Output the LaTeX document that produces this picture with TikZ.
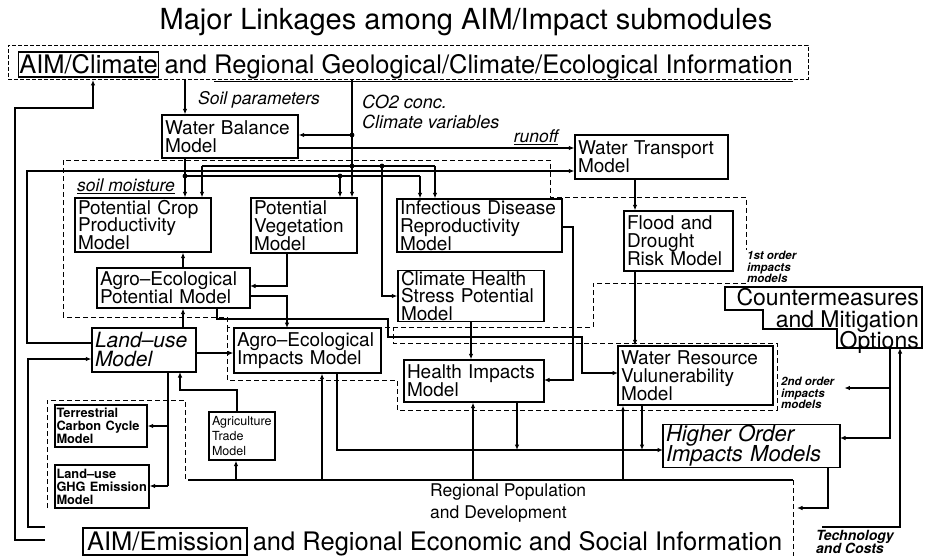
\documentclass[tikz,border=0pt]{standalone}
\usepackage{fontspec}
\setmainfont{TeX Gyre Heros}
\usetikzlibrary{arrows.meta}
\newcommand\fsz[2]{\fontsize{#1}{#2}\selectfont\lineskiplimit=-40pt\lineskip=0pt}
\begin{document}
\begin{tikzpicture}[x=1pt,y=-1pt,
  box/.style={draw, line width=1.3pt, align=left, inner xsep=3pt, inner ysep=0.5pt, font=\fsz{19}{17.8}},
  sbox/.style={box, line width=1.2pt, font=\fsz{12.8}{13}\bfseries, inner xsep=1.5pt},
  conn/.style={line width=1.1pt},
  arr/.style={conn, -{Latex[length=5.5pt,width=4.5pt]}},
  grp/.style={line width=0.7pt, dash pattern=on 5pt off 3pt},
  lbl/.style={inner sep=0pt, font=\fsz{17.5}{20}\itshape},
  ord/.style={inner sep=0pt, align=left, font=\fsz{11.5}{11.5}\bfseries\itshape},
  ban/.style={inner sep=0pt, font=\fsz{25.5}{27}}
]
\useasboundingbox (0,0) rectangle (931,556);

% title
\node[inner sep=0pt, anchor=base, font=\fsz{29}{30}] (title) at (466,30) {Major Linkages among AIM/Impact submodules};

% top banner
\node[draw, line width=0.6pt, dash pattern=on 4pt off 2pt, minimum width=800pt, minimum height=34pt, inner sep=0pt] (topban) at (408,62) {};
\node[box, font=\fsz{25.5}{27}, line width=1.2pt, minimum width=140pt, minimum height=25pt, inner xsep=1pt] (aimc) at (88.5,64.5) {AIM/Climate};
\node[ban, anchor=base west] (toptxt) at ([xshift=5pt]aimc.base east) {and \underline{Regional Geological/Climate/Ecological Information}};

% bottom banner
\node[box, font=\fsz{25.5}{27}, line width=1.2pt, minimum width=164pt, minimum height=27pt, inner xsep=1pt] (aime) at (165,541.5) {AIM/Emission};
\node[ban, anchor=base west] (bottxt) at ([xshift=5pt]aime.base east) {and \underline{Regional Economic and Social Information}};

% labels
\node[lbl, anchor=west] (soilp) at (198,100) {Soil parameters};
\node[lbl, anchor=west, font=\fsz{18}{20}\itshape] (co2) at (362,102) {CO2 conc.};
\node[lbl, anchor=west, font=\fsz{18}{20}\itshape] (climv) at (362,122) {Climate variables};
\node[lbl, anchor=south] (runoff) at (536,145) {\underline{runoff}};
\node[lbl, anchor=west] (soilm) at (77,186) {\underline{soil moisture}};
\node[ord, anchor=north west] (ord1) at (747,251) {1st order\\impacts\\models};
\node[ord, anchor=north west] (ord2) at (781,377) {2nd order\\impacts\\models};
\node[ord, anchor=north west, font=\fsz{14}{13}\bfseries\itshape] (tech) at (816,530) {Technology\\and Costs};
\node[inner sep=0pt, anchor=north west, align=left, font=\fsz{17.5}{22}] (regpop) at (430,484) {Regional Population\\and Development};

% group boundaries
\draw[grp] (63,317) -- (63,160) -- (550,160) -- (550,197) -- (746,197) -- (746,250);
\draw[grp] (746,283) -- (593,283) -- (593,327) -- (227,327) -- (227,317) -- (63,317);
\draw[grp] (227,327) -- (227,380) -- (397,380) -- (397,410) -- (777,410) -- (777,343) -- (393,343) -- (393,327);
\draw[grp] (47,508) -- (47,400) -- (185,400) -- (185,480);
\draw[grp] (793,480) -- (793,556);

% model boxes
\node[box, minimum width=136pt, minimum height=43pt, text width=130pt] (wb) at (230,136.5) {Water Balance\\Model};
\node[box, minimum width=153pt, minimum height=44pt, text width=147pt] (wt) at (651.5,157) {Water Transport\\Model};
\node[box, minimum width=136pt, minimum height=54pt, text width=130pt] (pcp) at (143,225) {Potential Crop\\Productivity\\Model};
\node[box, minimum width=106pt, minimum height=55pt, text width=100pt] (pv) at (304,225.5) {Potential\\Vegetation\\Model};
\node[box, minimum width=165pt, minimum height=53pt, text width=159pt] (id) at (479.5,225.5) {Infectious Disease\\Reproductivity\\Model};
\node[box, minimum width=109pt, minimum height=60pt, text width=103pt] (fd) at (678.5,241) {Flood and\\Drought\\Risk Model};
\node[box, minimum width=153pt, minimum height=40pt, text width=147pt] (aep) at (173.5,288) {Agro--Ecological\\Potential Model};
\node[box, minimum width=146pt, minimum height=50pt, text width=140pt] (chsp) at (471,296) {Climate Health\\Stress Potential\\Model};
\node[box, minimum width=104pt, minimum height=44pt, text width=98pt, font=\fsz{21}{19}\itshape] (lu) at (144,350) {Land--use\\Model};
\node[box, minimum width=147pt, minimum height=45pt, text width=141pt] (aei) at (307.5,350.5) {Agro--Ecological\\Impacts Model};
\node[box, minimum width=140pt, minimum height=42pt, text width=134pt] (hi) at (474,381) {Health Impacts\\Model};
\node[box, minimum width=155pt, minimum height=59pt, text width=149pt] (wr) at (695.5,375.5) {Water Resource\\Vulunerability\\Model};
\node[box, minimum width=177pt, minimum height=42pt, text width=171pt, font=\fsz{22}{20.2}\itshape] (ho) at (751.5,446) {Higher Order\\Impacts Models};
\node[sbox, minimum width=92pt, minimum height=42pt, text width=89pt] (tcc) at (101,426) {Terrestrial\\Carbon Cycle\\Model};
\node[sbox, minimum width=94pt, minimum height=43pt, text width=91pt] (ghg) at (102,486.5) {Land--use\\GHG Emission\\Model};
\node[box, minimum width=66pt, minimum height=48pt, text width=60pt, font=\fsz{12.5}{15}] (at) at (242,436) {Agriculture\\Trade\\Model};

% countermeasures (stepped box)
\draw[line width=1.2pt] (725,287) -- (922,287) -- (922,348) -- (837,348) -- (837,329) -- (763,329) -- (763,310) -- (725,310) -- cycle;
\node[inner sep=0pt, anchor=north east, align=right, font=\fsz{23}{21.3}] (cmt) at (919,288.5) {Countermeasures\\and Mitigation\\Options};

% ---- connectors ----
\coordinate (sp) at (185,79);
\draw[arr] (sp) -- (sp |- wb.north);
\coordinate (co2t) at (352,79);
\draw[arr] (co2t) -- (co2t |- pv.north);
\coordinate (j135) at (352,135);
\draw[arr] (j135) -- (j135 -| wb.east);
\coordinate (ro) at (298,148);
\draw[arr] (ro) -- (ro -| wt.west);

\coordinate (cb1) at (202,166);
\coordinate (cb2) at (435,166);
\coordinate (cv) at (382,166);
\coordinate (cj) at (352,166);
\draw[conn] (cb1) -- (cb2);
\draw[arr] (cb1) -- (cb1 |- pcp.north);
\draw[arr] (cb2) -- (cb2 |- id.north);
\draw[arr] (cv) |- (chsp.west);

\coordinate (sm) at (185,176);
\coordinate (sm2) at (340,176);
\coordinate (sm3) at (420,176);
\draw[conn] (sm |- wb.south) -- (sm);
\draw[conn] (sm) -- (sm3);
\draw[arr] (sm) -- (sm |- pcp.north);
\draw[arr] (sm2) -- (sm2 |- pv.north);
\draw[arr] (sm3) -- (sm3 |- id.north);

\coordinate (luw1) at (92,343);
\coordinate (lt) at (27,171);
\draw[arr] (luw1) -| (lt) -- (lt -| wt.west);

\coordinate (ae1) at (45,540);
\coordinate (ol) at (15,108);
\coordinate (ac1) at (93,80);
\draw[arr] (ae1) -| (ol) -| (ac1);

\coordinate (ae2) at (45,527);
\coordinate (il) at (28,359);
\draw[arr] (ae2) -| (il) -- (il -| lu.west);

\coordinate (pa) at (183,268);
\draw[arr] (pa) -- (pa |- pcp.south);
\coordinate (pvb) at (287,253);
\coordinate (aepe1) at (250,286);
\draw[arr] (pvb) |- (aepe1);
\coordinate (aepe2) at (250,296);
\coordinate (aein) at (287,328);
\draw[arr] (aepe2) -| (aein);
\coordinate (lun) at (183,328);
\draw[arr] (lun) -- (lun |- aep.south);
\coordinate (lue) at (196,353);
\draw[arr] (lue) -- (lue -| aei.west);

\coordinate (aeps) at (217,308);
\coordinate (wrw) at (618,373);
\draw[arr] (aeps) |- (388,319) |- (582,337) |- (wrw);

\coordinate (ide) at (562,227);
\coordinate (hie) at (544,380);
\draw[arr] (ide) -- ++(11,0) |- (hie);
\draw[arr] (chsp.south) -- (chsp.south |- hi.north);

\coordinate (wts) at (635,179);
\draw[arr] (wts) -- (wts |- fd.north);
\coordinate (fds) at (635,271);
\draw[arr] (fds) -- (fds |- wr.north);

\coordinate (aeis) at (337,373);
\coordinate (how) at (663,450);
\draw[arr] (aeis) |- (how);
\coordinate (his) at (517,402);
\draw[arr] (his) -- (his |- how);
\coordinate (wrs) at (642,405);
\draw[arr] (wrs) -- (wrs |- how);

\coordinate (sl) at (188,480);
\coordinate (sr) at (793,480);
\draw[conn] (sl) -- (sr);
\coordinate (s1) at (236,480);
\draw[arr] (s1) -- (s1 |- at.south);
\coordinate (s2) at (322,480);
\draw[arr] (s2) -- (s2 |- aei.south);
\coordinate (s3) at (473,480);
\draw[arr] (s3) -- (s3 |- hi.south);
\coordinate (s4) at (623,480);
\draw[arr] (s4) -- (s4 |- wr.south);

\coordinate (atn) at (237,412);
\coordinate (k390) at (180,390);
\coordinate (lus) at (180,372);
\draw[arr] (atn) |- (k390) -- (lus);

\coordinate (lub) at (168,372);
\coordinate (tb) at (168,426);
\coordinate (gb) at (168,486);
\draw[conn] (lub) -- (gb);
\draw[arr] (tb) -- (tb -| tcc.east);
\draw[arr] (gb) -- (gb -| ghg.east);

\coordinate (cms) at (890,348);
\coordinate (hoe) at (840,438);
\draw[arr] (cms) |- (hoe);
\coordinate (c2) at (890,388);
\draw[arr, shorten >=10pt] (c2) -- (c2 -| ord2.east);
\coordinate (tc) at (822,527);
\coordinate (cmr) at (900,348);
\draw[arr] (tc) -| (cmr);
\coordinate (hob) at (828,467);
\coordinate (rp) at (797,508);
\draw[arr] (hob) |- (rp);

% junction dots
\foreach \p in {j135,cj,cv,sm,sm2} \fill (\p) circle (2.4pt);
\end{tikzpicture}
\end{document}
